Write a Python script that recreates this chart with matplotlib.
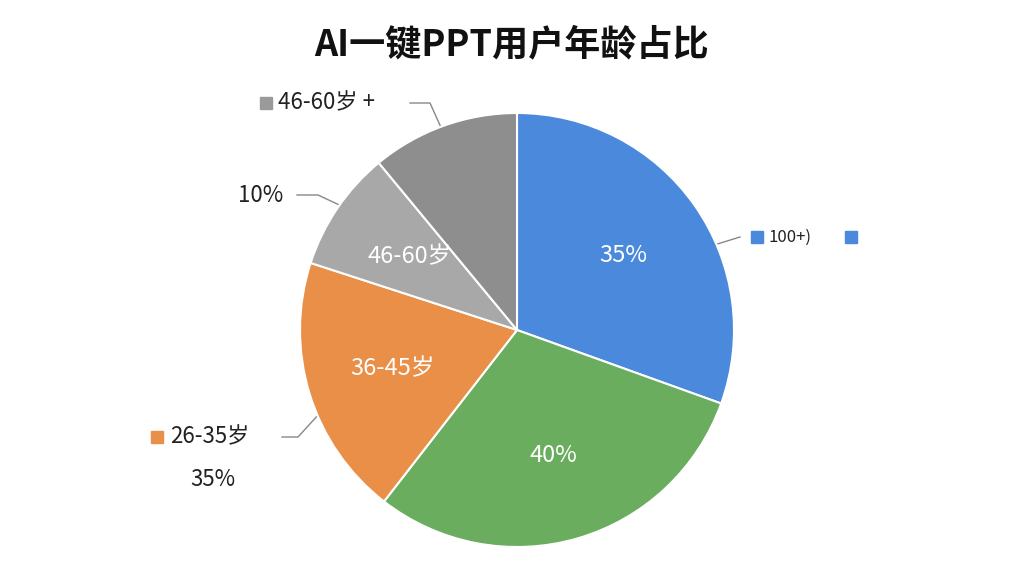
import matplotlib.pyplot as plt

plt.rcParams['font.family'] = ['Noto Sans CJK SC', 'DejaVu Sans']

# slices clockwise from top
shares = [30.5, 30.0, 19.5, 9.0, 11.0]
inner_labels = ["35%", "40%", "36-45岁", "46-60岁", ""]
colors = ["#4A89DC", "#6AAD5E", "#E98F48", "#A8A8A8", "#8E8E8E"]

fig = plt.figure(figsize=(10.24, 5.76), dpi=100, facecolor="white")
ax = fig.add_axes([0, 0, 1, 1])
ax.set_xlim(0, 1024)
ax.set_ylim(576, 0)
ax.axis("off")

pax = fig.add_axes([(517 - 217) / 1024, 1 - (330 + 217) / 576, 434 / 1024, 434 / 576])
wedges, texts = pax.pie(shares, colors=colors, startangle=90, counterclock=False,
                        labels=inner_labels, labeldistance=0.6,
                        wedgeprops=dict(edgecolor="white", linewidth=1.5),
                        textprops=dict(color="white", fontsize=17, ha="center", va="center"))
pax.set_xlim(-1.0, 1.0)
pax.set_ylim(-1.0, 1.0)
pax.set_aspect("equal")

ax.text(512, 45, "AI一键PPT用户年龄占比", ha="center", va="center",
        fontsize=26, fontweight="bold", color="#111111")

# outside labels with leader lines
lc = "#888888"
ax.plot([410, 430, 448], [103, 103, 143], color=lc, lw=1)
ax.plot(448, 143, "s", color="#E98F48", ms=5)
ax.plot(266, 103, "s", color="#9A9A9A", ms=9)
ax.text(278, 103, "46-60岁 +", fontsize=16, va="center", color="#222222")

ax.plot([297, 318, 350], [195, 195, 210], color=lc, lw=1)
ax.plot(350, 210, "s", color="#777777", ms=5)
ax.text(238, 195, "10%", fontsize=16, va="center", color="#222222")

ax.plot([698, 740], [250, 237], color=lc, lw=1)
ax.plot(698, 250, "o", color="#8E6E60", ms=4)
ax.plot(757, 237, "s", color="#4A89DC", ms=8)
ax.text(768, 237, "100+)", fontsize=12, style="italic", va="center", color="#222222")
ax.plot(851, 237, "s", color="#4A89DC", ms=8)

ax.plot([282, 298, 330], [437, 437, 402], color=lc, lw=1)
ax.plot(330, 402, "s", color="#8B5A2B", ms=5)
ax.plot(157, 437, "s", color="#E98F48", ms=9)
ax.text(170, 437, "26-35岁", fontsize=16, va="center", color="#222222")
ax.text(190, 480, "35%", fontsize=16, va="center", color="#222222")

fig.savefig("out.png", dpi=100, facecolor="white")
